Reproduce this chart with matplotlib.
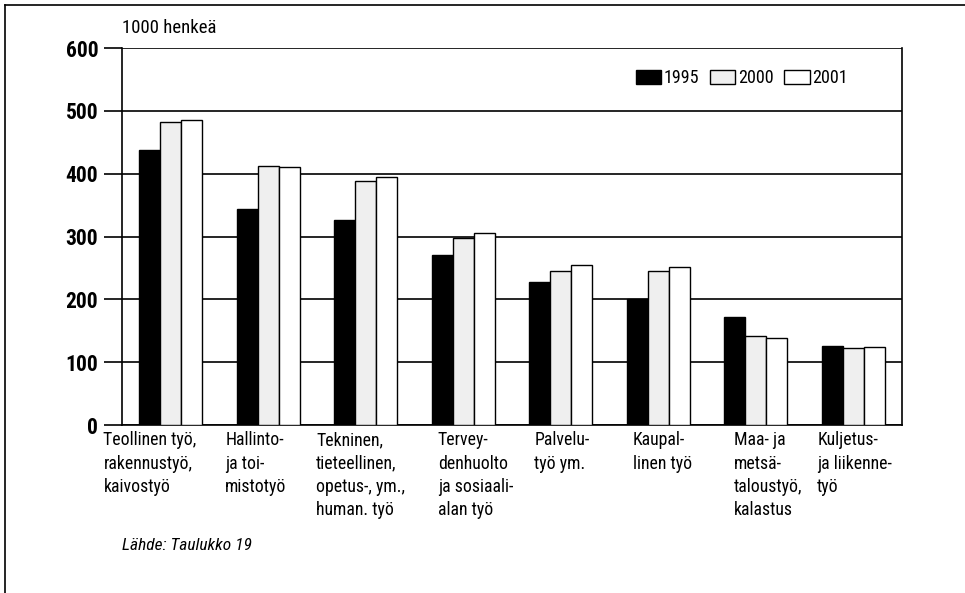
import matplotlib
matplotlib.use("Agg")
import matplotlib.pyplot as plt
import numpy as np

# ---- data (1000 persons) ----
categories = [
    "Teollinen työ,\nrakennustyö,\nkaivostyö",
    "Hallinto-\nja toi-\nmistotyö",
    "Tekninen,\ntieteellinen,\nopetus-, ym.,\nhuman. työ",
    "Tervey-\ndenhuolto\nja sosiaali-\nalan työ",
    "Palvelu-\ntyö ym.",
    "Kaupal-\nlinen työ",
    "Maa- ja\nmetsä-\ntaloustyö,\nkalastus",
    "Kuljetus-\nja liikenne-\ntyö",
]
years = ["1995", "2000", "2001"]
v1995 = [437, 344, 326, 271, 227, 201, 172, 126]
v2000 = [482, 412, 389, 297, 245, 245, 142, 123]
v2001 = [486, 411, 394, 305, 255, 251, 138, 124]
yticks = [0, 100, 200, 300, 400, 500, 600]

plt.rcParams["font.family"] = ["Roboto Condensed", "DejaVu Sans"]

fig = plt.figure(figsize=(9.65, 5.93), dpi=100)
ax = fig.add_axes([0.1264, 0.2833, 0.8083, 0.6357])

x = np.arange(len(categories))
w = 0.215
colors = ["black", "#efefef", "white"]
for k, (vals, col, lbl) in enumerate(zip([v1995, v2000, v2001], colors, years)):
    ax.bar(x + (k - 1) * w, vals, w, color=col, edgecolor="black", lw=1.0,
           label=lbl, zorder=3)

ax.set_xlim(-0.5, len(categories) - 0.5)
ax.set_ylim(0, 600)
ax.set_yticks(yticks)
ax.set_yticklabels([str(t) for t in yticks], fontsize=15.5, fontweight="bold")
ax.tick_params(axis="y", length=13, width=1.2, pad=4)
ax.set_xticks([])
ax.grid(axis="y", color="black", lw=1.2, zorder=0)
for s in ax.spines.values():
    s.set_linewidth(1.2)
ax.spines["top"].set_visible(False)

# category labels, left aligned under each group
shift = [-0.69, -0.44, -0.51, -0.26, -0.27, -0.26, -0.22, -0.37]
for i, (lab, sh) in enumerate(zip(categories, shift)):
    ax.text(i + sh, -10, lab, ha="left", va="top", fontsize=12.8,
            linespacing=1.38, transform=ax.transData)

ax.text(0.0, 1.03, "1000 henkeä", transform=ax.transAxes, fontsize=13.5,
        ha="left", va="bottom")

ax.legend(loc="center right", bbox_to_anchor=(0.94, 0.92), ncol=3,
          frameon=False, fontsize=13, handlelength=1.4, handleheight=0.75,
          handletextpad=0.15, columnspacing=0.6, borderaxespad=0)

fig.text(122 / 965, 1 - 546 / 593, "Lähde: Taulukko 19", fontsize=12.5,
         style="italic", ha="left", va="center")

# outer frame (left and top edges only)
fig.add_artist(plt.Line2D([5 / 965, 5 / 965], [0, 1 - 5 / 593],
                          color="black", lw=1.2, transform=fig.transFigure))
fig.add_artist(plt.Line2D([5 / 965, 1], [1 - 5 / 593, 1 - 5 / 593],
                          color="black", lw=1.2, transform=fig.transFigure))

fig.savefig("out.png", dpi=100)
